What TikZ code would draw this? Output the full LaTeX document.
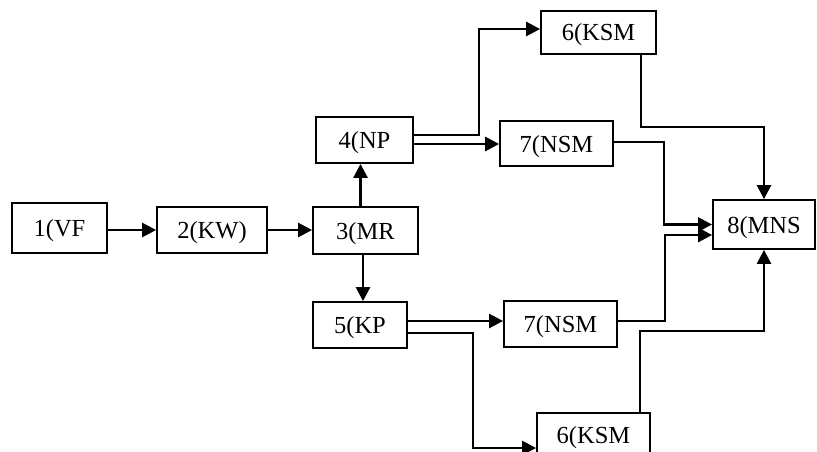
\documentclass[tikz,border=0pt]{standalone}
\usepackage{fontspec}
\setmainfont{Liberation Serif}
\usetikzlibrary{arrows.meta,calc}
\begin{document}
\begin{tikzpicture}[x=1pt,y=-1pt,
  box/.style={draw,line width=1.8pt,rectangle,inner sep=0pt,text height=17pt,text depth=0pt,font=\fontsize{24.5}{27}\selectfont},
  arr/.style={line width=2.6pt,-{Triangle[length=14pt,width=14pt]}}]
\useasboundingbox (0,0) rectangle (817,452);
\node[box,minimum width=95pt,minimum height=50pt] (n1) at (59.5,228) {1(VF};
\node[box,minimum width=110pt,minimum height=46pt] (n2) at (212,230) {2(KW)};
\node[box,minimum width=105pt,minimum height=47pt] (n3) at (365.5,230.5) {3(MR};
\node[box,minimum width=97pt,minimum height=46pt] (n4) at (364.5,140) {4(NP};
\node[box,minimum width=94pt,minimum height=46pt] (n5) at (360,325) {5(KP};
\node[box,minimum width=115pt,minimum height=43pt] (n6a) at (598.5,32.5) {6(KSM};
\node[box,minimum width=113pt,minimum height=45pt] (n7a) at (556.5,143.5) {7(NSM};
\node[box,minimum width=113pt,minimum height=46pt] (n7b) at (560.5,324) {7(NSM};
\node[box,minimum width=113pt,minimum height=43pt] (n6b) at (593.5,434.5) {6(KSM};
\node[box,minimum width=102pt,minimum height=49pt] (n8) at (764,224.5) {8(MNS};

\draw[arr] (n1.east |- n2) -- (n2.west);
\draw[arr] (n2.east) -- (n2.east -| n3.west);
\draw[arr] ([xshift=-4pt]n4.south |- n3.north) -- ([xshift=-4pt]n4.south);
\draw[arr] ([xshift=3pt]n5.north |- n3.south) -- ([xshift=3pt]n5.north);
\draw[arr] ([yshift=5pt]n4.east) -- ++(65,0) |- ([yshift=3.5pt]n6a.west);
\draw[arr] ([yshift=-4pt]n4.east) -- ([yshift=-4pt]n4.east -| n7a.west);
\draw[arr] ([yshift=4pt]n5.east) -- ([yshift=4pt]n5.east -| n7b.west);
\draw[arr] ([yshift=-8pt]n5.east) -- ++(65,0) |- ([yshift=-13.5pt]n6b.west);
\draw[arr] ([xshift=42.5pt]n6a.south) -- ++(0,72) -| (n8.north);
\draw[arr] ([yshift=1.5pt]n7a.east) -- ++(50,0) |- (n8.west);
\draw[arr] ([yshift=3pt]n7b.east) -- ++(47,0) |- ([yshift=-10.5pt]n8.west);
\draw[arr] ([xshift=46.5pt]n6b.north) -- ++(0,-81) -| (n8.south);
\end{tikzpicture}
\end{document}
